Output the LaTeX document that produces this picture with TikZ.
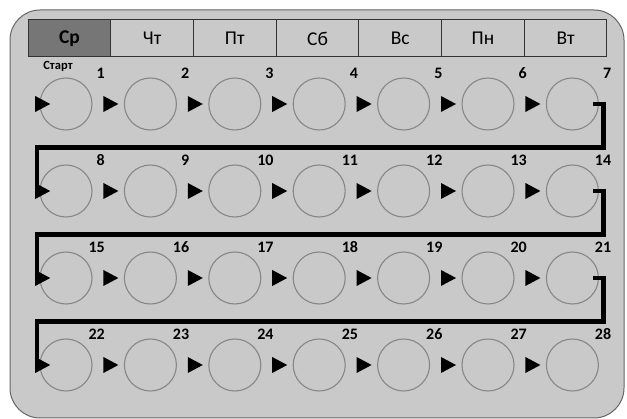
\documentclass[tikz,border=0pt]{standalone}
\usepackage{fontspec}
\setmainfont{Carlito}
\usetikzlibrary{shapes.geometric}
\definecolor{tafel}{RGB}{201, 201, 201}
\definecolor{kreisrand}{RGB}{135, 135, 135}
\definecolor{heute}{RGB}{118, 118, 118}

\begin{document}
\begin{tikzpicture}[x=1pt, y=-1pt,
	kreis/.style={circle, draw=kreisrand, line width=1.1pt, minimum size=52pt, inner sep=0pt},
	pfeil/.style={isosceles triangle, isosceles triangle stretches, fill=black, inner sep=0pt, minimum width=16pt, minimum height=15pt},
	nummer/.style={anchor=south east, inner sep=0pt, font=\fontsize{16}{16}\selectfont\bfseries},
	kopf/.style={draw=black!80, line width=1pt, fill=tafel, minimum width=82.7pt, minimum height=37pt, inner sep=0pt, font=\fontsize{19.5}{19.5}\selectfont},
	bahn/.style={line width=4.5pt, black}]
	
	% --- HILFSFUNKTION FÜR TAGE ---
	\newcommand{\tagfeld}[5]{ % #1:Name, #2:x, #3:y, #4:Nummer, #5:Pfeil-x
		\node[kreis] (k#1) at (#2, #3) {};
		\node[pfeil] (p#1) at (#5, #3) {};
		\node[nummer] (n#1) at (#2+39, #3-25) {#4};
	}
	
	% --- TAFEL ---
	\fill[white] (0,0) rectangle (627,419);
	\useasboundingbox (0,0) rectangle (627,419);
	\draw[draw=black!60, line width=1pt, fill=tafel, rounded corners=30pt] (10,10) rectangle (624,418);
	
	% --- KOPFZEILE: WOCHENTAGE ---
	\node[kopf, fill=heute] (h1) at (69.4, 38.5) {\textbf{Ср}};
	\node[kopf] (h2) at (152.1, 38.5) {Чт};
	\node[kopf] (h3) at (234.8, 38.5) {Пт};
	\node[kopf] (h4) at (317.5, 38.5) {Сб};
	\node[kopf] (h5) at (400.2, 38.5) {Вс};
	\node[kopf] (h6) at (482.9, 38.5) {Пн};
	\node[kopf] (h7) at (565.6, 38.5) {Вт};
	
	% --- REIHE 1 ---
	\tagfeld{1}{66}{104}{1}{40}
	\tagfeld{2}{150.4}{104}{2}{108.2}
	\tagfeld{3}{234.8}{104}{3}{192.6}
	\tagfeld{4}{319.2}{104}{4}{277}
	\tagfeld{5}{403.6}{104}{5}{361.4}
	\tagfeld{6}{488}{104}{6}{445.8}
	\tagfeld{7}{572.4}{104}{7}{530.2}
	\node[font=\fontsize{12.5}{12.5}\selectfont\bfseries, inner sep=0pt] (start) at (58, 66) {Старт};
	
	% --- REIHE 2 ---
	\tagfeld{8}{66}{191}{8}{40}
	\tagfeld{9}{150.4}{191}{9}{108.2}
	\tagfeld{10}{234.8}{191}{10}{192.6}
	\tagfeld{11}{319.2}{191}{11}{277}
	\tagfeld{12}{403.6}{191}{12}{361.4}
	\tagfeld{13}{488}{191}{13}{445.8}
	\tagfeld{14}{572.4}{191}{14}{530.2}
	
	% --- REIHE 3 ---
	\tagfeld{15}{66}{278}{15}{40}
	\tagfeld{16}{150.4}{278}{16}{108.2}
	\tagfeld{17}{234.8}{278}{17}{192.6}
	\tagfeld{18}{319.2}{278}{18}{277}
	\tagfeld{19}{403.6}{278}{19}{361.4}
	\tagfeld{20}{488}{278}{20}{445.8}
	\tagfeld{21}{572.4}{278}{21}{530.2}
	
	% --- REIHE 4 ---
	\tagfeld{22}{66}{365}{22}{40}
	\tagfeld{23}{150.4}{365}{23}{108.2}
	\tagfeld{24}{234.8}{365}{24}{192.6}
	\tagfeld{25}{319.2}{365}{25}{277}
	\tagfeld{26}{403.6}{365}{26}{361.4}
	\tagfeld{27}{488}{365}{27}{445.8}
	\tagfeld{28}{572.4}{365}{28}{530.2}
	
	% --- ZEILENWECHSEL ---
	\coordinate (w1) at (603.5, 147.5);
	\coordinate (w2) at (603.5, 234.5);
	\coordinate (w3) at (603.5, 321.5);
	\draw[bahn] ([xshift=-6pt]k7.east) -| (w1) -| ([xshift=2pt, yshift=-6pt]p8.west);
	\draw[bahn] ([xshift=-6pt]k14.east) -| (w2) -| ([xshift=2pt, yshift=-6pt]p15.west);
	\draw[bahn] ([xshift=-6pt]k21.east) -| (w3) -| ([xshift=2pt, yshift=-6pt]p22.west);
	
\end{tikzpicture}
\end{document}
